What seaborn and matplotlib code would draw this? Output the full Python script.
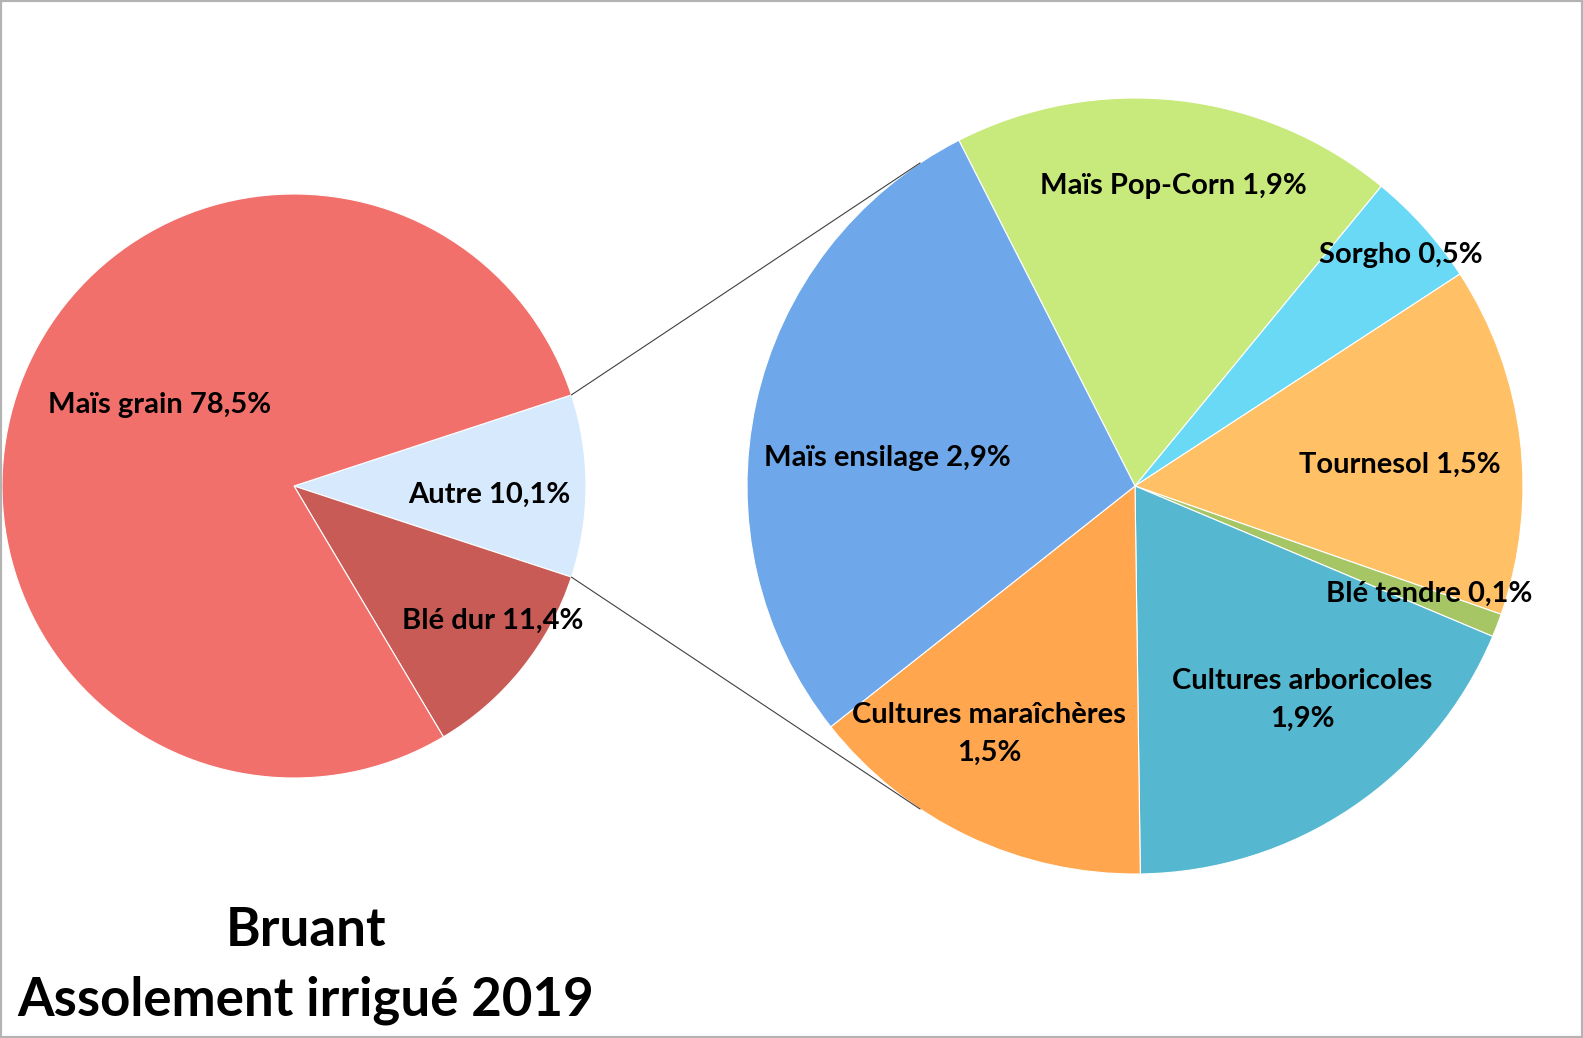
import numpy as np
import matplotlib
matplotlib.use("Agg")
import matplotlib.pyplot as plt
import seaborn as sns
from matplotlib.patches import Rectangle

# données
main_labels = ["Autre", "Blé dur", "Maïs grain"]
main_values = [10.1, 11.4, 78.5]
main_colors = ["#D7E9FC", "#C85B55", "#F2706B"]

sub_labels = ["Maïs Pop-Corn", "Sorgho", "Tournesol", "Blé tendre",
              "Cultures arboricoles", "Cultures maraîchères", "Maïs ensilage"]
sub_values = [1.9, 0.5, 1.5, 0.1, 1.9, 1.5, 2.9]
sub_colors = ["#C8EA7C", "#6AD9F6", "#FFC066", "#A6C666",
              "#55B7D0", "#FFA64F", "#6FA8EA"]

title_lines = ["Bruant", "Assolement irrigué 2019"]

sns.set_theme(style="white")
plt.rcParams['font.family'] = ['Lato', 'DejaVu Sans']

W, H = 1583, 1038
fig = plt.figure(figsize=(W / 100, H / 100), dpi=100)
ax = fig.add_axes([0, 0, 1, 1])

def fmt(v):
    return f"{v:.1f}".replace(".", ",") + "%"

# camembert principal (la part "Autre" centrée sur 0°)
c1, r1 = (294, H - 486), 292
start1 = main_values[0] / sum(main_values) * 360 / 2
w1, _ = ax.pie(main_values, colors=main_colors, startangle=start1, counterclock=False,
               center=c1, radius=r1, wedgeprops=dict(edgecolor="white", linewidth=0.8))

# camembert secondaire (détail de "Autre")
c2, r2 = (1135, H - 486), 388
w2, _ = ax.pie(sub_values, colors=sub_colors, startangle=117, counterclock=False,
               center=c2, radius=r2, wedgeprops=dict(edgecolor="white", linewidth=0.8))

# lignes de liaison tangentes au second camembert
autre = w1[0]
for ang, sign in [(autre.theta2, -1), (autre.theta1, 1)]:
    p = np.array(c1) + r1 * np.array([np.cos(np.radians(ang)), np.sin(np.radians(ang))])
    d = p - np.array(c2)
    phi = np.arctan2(d[1], d[0])
    alpha = np.arccos(r2 / np.hypot(*d))
    t = phi + sign * alpha
    q = np.array(c2) + r2 * np.array([np.cos(t), np.sin(t)])
    ax.plot([p[0], q[0]], [p[1], q[1]], color="#404040", lw=0.8)

# étiquettes
main_pos = {"Maïs grain": (160, 405), "Autre": (489, 495), "Blé dur": (493, 621)}
sub_pos = {"Maïs Pop-Corn": (1173, 186), "Sorgho": (1401, 255), "Tournesol": (1400, 465),
           "Blé tendre": (1429, 594), "Cultures arboricoles": (1302, 700),
           "Cultures maraîchères": (989, 734), "Maïs ensilage": (887, 458)}

for lab, v in zip(main_labels, main_values):
    x, y = main_pos[lab]
    ax.text(x, H - y, f"{lab} {fmt(v)}", ha="center", va="center",
            fontsize=21, fontweight="bold", color="black")
for lab, v in zip(sub_labels, sub_values):
    x, y = sub_pos[lab]
    sep = "\n" if lab.startswith("Cultures") else " "
    ax.text(x, H - y, f"{lab}{sep}{fmt(v)}", ha="center", va="center",
            fontsize=21, fontweight="bold", color="black", linespacing=1.55)

# titre
ax.text(306, H - 930, title_lines[0], ha="center", va="center",
        fontsize=38, fontweight="bold", color="black")
ax.text(306, H - 1000, title_lines[1], ha="center", va="center",
        fontsize=38, fontweight="bold", color="black")

ax.set_xlim(0, W)
ax.set_ylim(0, H)
ax.set_aspect("equal")
ax.set_axis_off()

fig.add_artist(Rectangle((0, 0), 1, 1, transform=fig.transFigure, fill=False,
                         edgecolor="#b3b3b3", linewidth=3))

fig.savefig("out.png", dpi=100, facecolor="white")
